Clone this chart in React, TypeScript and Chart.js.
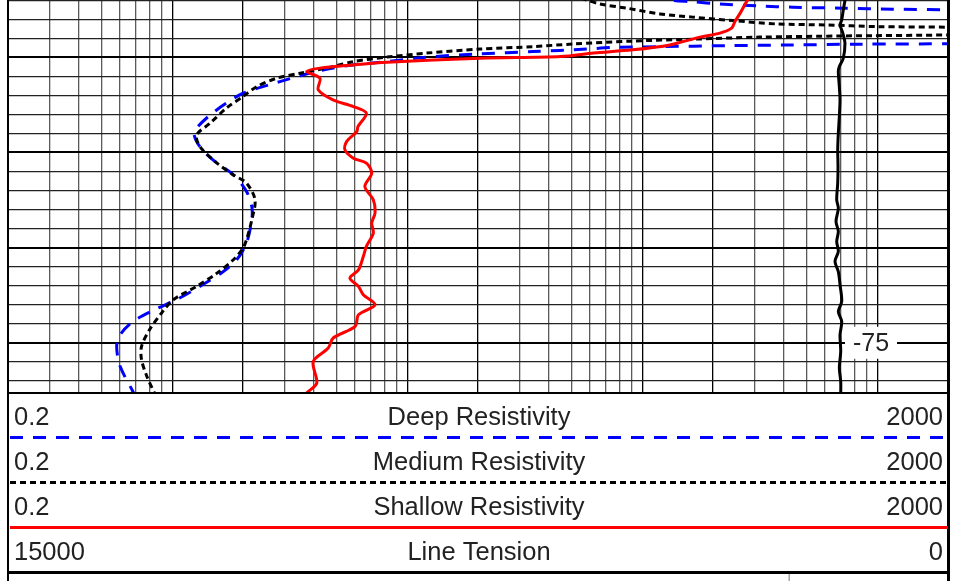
import { useEffect, useRef } from 'react';
import { Chart, registerables } from 'chart.js';

Chart.register(...registerables);

// ---------- data ----------
const curveNames = ['Deep Resistivity', 'Medium Resistivity', 'Shallow Resistivity', 'Line Tension'];
const curveMins = ['0.2', '0.2', '0.2', '15000'];
const curveMaxs = ['2000', '2000', '2000', '0'];

const resMin = 0.2;
const resMax = 2000;
const tensionMin = 0;
const tensionMax = 15000;
const depthTop = -93.01;
const depthBottom = -72.36;

const xGridValues = [
  0.2, 0.3, 0.4, 0.5, 0.6, 0.7, 0.8, 0.9,
  1, 2, 3, 4, 5, 6, 7, 8, 9,
  10, 20, 30, 40, 50, 60, 70, 80, 90,
  100, 200, 300, 400, 500, 600, 700, 800, 900,
  1000, 2000,
];
const yGridValues = [
  -93, -92, -91, -90, -89, -88, -87, -86, -85, -84, -83, -82, -81, -80,
  -79, -78, -77, -76, -75, -74, -73,
];
const depthLabels = [-75];

const deepDepth = [
  -93.3, -93.01, -92.92, -92.8, -92.7, -92.63, -92.58, -92.53, -92.49, -92.39, -91.6, -90.81, -90.72,
  -90.69, -90.65, -90.61, -90.56, -90.51, -90.43, -90.3, -90.18, -90.01, -89.77, -89.6, -89.3, -88.72,
  -88.11, -87.59, -86.97, -86.28, -85.92, -85.31, -84.61, -83.82, -82.95, -82.16, -81.46, -80.24,
  -79.36, -78.74, -77.96, -77.26, -76.73, -76.12, -75.42, -74.81, -73.76, -72.44, -72.1,
];
const deepValues = [
  110, 131, 164, 214, 317, 438, 715, 1167, 2000, 3000, 5000, 3000, 2100,
  845, 438, 229, 119, 73, 58, 34.3, 20.4, 12.1, 8.2, 5.87, 4.25, 2.87,
  2.0, 1.7, 1.45, 1.27, 1.24, 1.31, 1.49, 1.82, 2.07, 2.18, 2.18, 2.07,
  1.88, 1.65, 1.31, 1.04, 0.84, 0.68, 0.6, 0.58, 0.6, 0.68, 0.7,
];

const medDepth = [
  -93.3, -93.01, -92.8, -92.58, -92.28, -92.11, -91.93, -91.75, -91.7, -91.61, -91.58, -91.49, -91.39,
  -91.26, -91.18, -91.12, -91.06, -90.95, -90.85, -90.7, -90.56, -90.43, -90.22, -90.01, -89.77, -89.51,
  -89.16, -88.9, -88.46, -87.94, -87.33, -86.54, -85.92, -85.31, -84.44, -83.82, -83.39, -82.51, -81.46,
  -80.41, -79.97, -79.36, -78.66, -77.96, -77.26, -76.56, -75.68, -74.81, -74.11, -73.23, -72.36, -72.1,
];
const medValues = [
  50, 58, 66.1, 85.9, 119, 164, 243, 374, 611, 998, 2000, 3000, 3500,
  3000, 2100, 715, 317, 164, 91, 51, 34.3, 20.4, 12.1, 8.2, 5.87, 4.83,
  3.5, 2.78, 2.29, 2.0, 1.7, 1.45, 1.27, 1.31, 1.55, 1.82, 2.07, 2.25, 2.18,
  2.07, 2.0, 1.82, 1.55, 1.27, 1.01, 0.9, 0.8, 0.74, 0.74, 0.78, 0.84, 0.86,
];

const shalDepth = [
  -93.3, -93.01, -92.32, -91.88, -91.53, -91.27, -91.06, -90.65, -90.39, -90.22, -90.04, -89.95,
  -89.74, -89.6, -89.43, -89.25, -88.9, -88.29, -87.76, -87.41, -87.06, -86.36, -86.1, -85.57,
  -85.14, -84.7, -84.44, -83.91, -83.21, -82.51, -81.81, -81.29, -80.76, -80.06, -79.53, -78.83,
  -78.4, -77.96, -77.52, -76.99, -76.47, -75.86, -75.25, -74.72, -74.02, -72.88, -72.36, -72.1,
];
const shalValues = [
  300, 281, 261, 248, 240, 214, 176, 131, 91, 62, 45, 20.4,
  8.2, 5.9, 4.25, 3.73, 4.25, 4.18, 4.83, 5.9, 6.7, 6.17, 6.1, 5.52,
  5.43, 5.9, 6.7, 7.06, 6.6, 7.17, 7.29, 7.06, 7.17, 6.7, 6.5, 6.2,
  5.7, 6.2, 6.5, 7.29, 6.2, 6.0, 4.84, 4.61, 3.98, 4.12, 3.73, 3.6,
];

const tenDepth = [
  -93.3, -93.01, -92.49, -91.96, -91.7, -91.44, -91.18, -90.74, -89.95, -89.51, -89.25, -88.46, -87.76,
  -86.89, -86.01, -85.14, -84.26, -83.39, -82.51, -82.07, -81.37, -80.85, -80.32, -79.8, -79.27,
  -78.74, -78.05, -77.17, -76.64, -76.12, -75.42, -74.54, -73.67, -72.97, -72.27,
];
const tenValues = [
  1644, 1644, 1671, 1696, 1723, 1696, 1671, 1644, 1671, 1734, 1750, 1734, 1723,
  1734, 1750, 1760, 1755, 1760, 1776, 1750, 1787, 1750, 1776, 1750, 1803,
  1750, 1723, 1696, 1750, 1696, 1723, 1712, 1734, 1712, 1712,
];

// ---------- styles ----------
const FONT = '"Liberation Sans", Arial, sans-serif';
const curveColors = ['#0000ff', '#000000', '#ff0000', '#000000'];
const curveDashes: number[][] = [[13, 10], [6, 4], [], []];
const curveWidths = [3, 3, 3, 3];

const pts = (vals: number[], depths: number[]) => vals.map((v, i) => ({ x: v, y: depths[i] }));

function isMajorLog(v: number) {
  const p = Math.pow(10, Math.floor(Math.log10(v) + 1e-9));
  const m = v / p;
  return Math.abs(m - 1) < 0.01 || Math.abs(m - 2) < 0.01;
}

const overlayPlugin = {
  id: 'logOverlay',
  beforeDatasetsDraw(chart: any) {
    const { ctx, chartArea, scales } = chart;
    ctx.save();
    ctx.font = `25px ${FONT}`;
    ctx.textAlign = 'center';
    ctx.textBaseline = 'middle';
    depthLabels.forEach((d) => {
      const y = scales.y.getPixelForValue(d);
      const cx = chartArea.right - 77;
      ctx.fillStyle = '#ffffff';
      ctx.fillRect(cx - 26, y - 16, 52, 32);
      ctx.fillStyle = '#222222';
      ctx.fillText(String(d), cx, y + 1);
    });
    ctx.restore();
  },
  afterDraw(chart: any) {
    const { ctx, chartArea } = chart;
    const H = chart.height;
    const L = chartArea.left;
    const R = chartArea.right;
    const B = chartArea.bottom;
    ctx.save();
    // borders
    ctx.strokeStyle = '#000';
    ctx.setLineDash([]);
    ctx.lineWidth = 2;
    ctx.beginPath();
    ctx.moveTo(L, 0);
    ctx.lineTo(L, H);
    ctx.stroke();
    ctx.lineWidth = 3;
    ctx.beginPath();
    ctx.moveTo(R + 0.5, 0);
    ctx.lineTo(R + 0.5, H);
    ctx.stroke();
    ctx.lineWidth = 2;
    ctx.beginPath();
    ctx.moveTo(L, B);
    ctx.lineTo(R, B);
    ctx.stroke();

    // header rows
    const rowH = 45;
    curveNames.forEach((name, i) => {
      const lineY = B + rowH * (i + 1) - 0.5;
      const textY = lineY - 20;
      ctx.fillStyle = '#222222';
      ctx.font = `25.5px ${FONT}`;
      ctx.textBaseline = 'middle';
      ctx.textAlign = 'left';
      ctx.fillText(curveMins[i], L + 6, textY);
      ctx.textAlign = 'right';
      ctx.fillText(curveMaxs[i], R - 5, textY);
      ctx.textAlign = 'center';
      ctx.fillText(name, (L + R) / 2 + 1, textY);
      ctx.strokeStyle = curveColors[i];
      ctx.lineWidth = curveWidths[i];
      ctx.setLineDash(curveDashes[i]);
      ctx.beginPath();
      ctx.moveTo(i === curveNames.length - 1 ? L : L + 2, lineY);
      ctx.lineTo(R, lineY);
      ctx.stroke();
    });
    ctx.setLineDash([]);
    // start of next box
    const lastY = B + rowH * curveNames.length;
    ctx.strokeStyle = '#777';
    ctx.lineWidth = 1;
    ctx.beginPath();
    ctx.moveTo(L + (R - L) * 0.8305 + 0.5, lastY + 1);
    ctx.lineTo(L + (R - L) * 0.8305 + 0.5, H);
    ctx.stroke();
    ctx.restore();
  },
};

export default function App() {
  const ref = useRef<HTMLCanvasElement>(null);
  useEffect(() => {
    if (!ref.current) return;
    const lineDs = (label: string, data: any[], i: number, xAxisID: string) => ({
      label,
      data,
      xAxisID,
      yAxisID: 'y',
      showLine: true,
      borderColor: curveColors[i],
      backgroundColor: curveColors[i],
      borderWidth: curveWidths[i],
      borderDash: curveDashes[i],
      pointRadius: 0,
      pointHoverRadius: 0,
      tension: 0.3,
      fill: false,
    });
    const chart = new Chart(ref.current, {
      type: 'scatter',
      data: {
        datasets: [
          lineDs(curveNames[3], pts(tenValues, tenDepth), 3, 'x2'),
          lineDs(curveNames[2], pts(shalValues, shalDepth), 2, 'x'),
          lineDs(curveNames[1], pts(medValues, medDepth), 1, 'x'),
          lineDs(curveNames[0], pts(deepValues, deepDepth), 0, 'x'),
        ],
      },
      plugins: [overlayPlugin],
      options: {
        animation: false,
        responsive: false,
        maintainAspectRatio: false,
        events: [],
        layout: { padding: { left: 8, right: 13, top: 0, bottom: 188 } },
        plugins: { legend: { display: false }, tooltip: { enabled: false } },
        scales: {
          x: {
            type: 'logarithmic',
            position: 'bottom',
            min: resMin,
            max: resMax,
            afterBuildTicks: (scale: any) => {
              scale.ticks = xGridValues.map((v) => ({ value: v }));
            },
            ticks: { display: false },
            border: { display: false },
            grid: {
              drawTicks: false,
              color: (c: any) => (isMajorLog(c.tick.value) ? '#000000' : '#5a5a5a'),
              lineWidth: 1.3,
            },
          },
          x2: {
            type: 'linear',
            display: false,
            min: tensionMin,
            max: tensionMax,
            reverse: true,
          },
          y: {
            type: 'linear',
            position: 'left',
            min: depthTop,
            max: depthBottom,
            reverse: true,
            afterBuildTicks: (scale: any) => {
              scale.ticks = yGridValues.map((v) => ({ value: v }));
            },
            ticks: { display: false },
            border: { display: false },
            grid: {
              drawTicks: false,
              color: (c: any) => (c.tick.value % 5 === 0 ? '#000000' : '#222222'),
              lineWidth: (c: any) => (c.tick.value % 5 === 0 ? 2 : 1.2),
            },
          },
        },
      } as any,
    });
    return () => chart.destroy();
  }, []);
  return (
    <div style={{ position: 'fixed', left: 0, top: 0, width: 961, height: 581, background: '#ffffff' }}>
      <canvas ref={ref} width={961} height={581} style={{ display: 'block', width: 961, height: 581 }} />
    </div>
  );
}
